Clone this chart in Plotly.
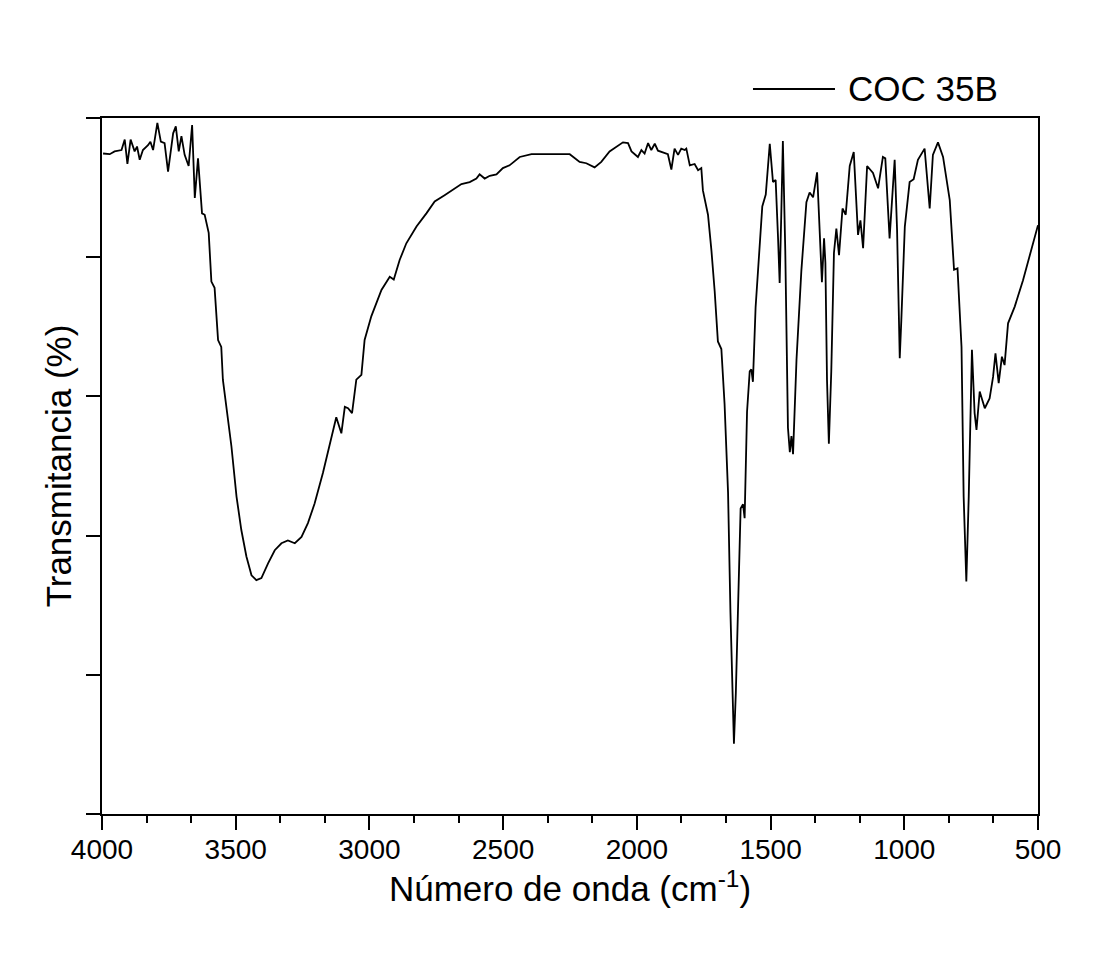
import plotly.graph_objects as go

# FTIR spectrum, sample COC 35B
wavenumber = [
    3996, 3971, 3953, 3927, 3915, 3905, 3893, 3878, 3869, 3859,
    3847, 3828, 3819, 3809, 3793, 3780, 3766, 3753, 3734, 3724,
    3713, 3703, 3691, 3676, 3663, 3653, 3641, 3626, 3616, 3601,
    3591, 3579, 3566, 3554, 3548, 3535, 3516, 3497, 3479, 3460,
    3441, 3423, 3404, 3379, 3354, 3329, 3305, 3279, 3254, 3230,
    3205, 3174, 3149, 3124, 3105, 3092, 3080, 3065, 3049, 3030,
    3018, 2993, 2955, 2924, 2909, 2887, 2862, 2824, 2787, 2756,
    2719, 2688, 2656, 2625, 2600, 2588, 2569, 2550, 2525, 2501,
    2476, 2438, 2394, 2314, 2251, 2214, 2189, 2158, 2133, 2102,
    2052, 2033, 2020, 1996, 1983, 1971, 1958, 1946, 1933, 1921,
    1896, 1884, 1871, 1859, 1846, 1834, 1821, 1815, 1802, 1784,
    1771, 1759, 1753, 1734, 1721, 1709, 1697, 1684, 1672, 1659,
    1650, 1643, 1637, 1630, 1622, 1612, 1603, 1597, 1588, 1578,
    1572, 1566, 1556, 1547, 1531, 1518, 1503, 1491, 1481, 1472,
    1466, 1460, 1454, 1445, 1435, 1428, 1422, 1416, 1403, 1385,
    1366, 1354, 1341, 1326, 1314, 1308, 1300, 1295, 1289, 1282,
    1273, 1263, 1254, 1244, 1231, 1219, 1204, 1189, 1173, 1164,
    1154, 1139, 1117, 1098, 1080, 1071, 1055, 1036, 1027, 1017,
    1011, 998, 980, 965, 949, 924, 905, 893, 874, 855,
    830, 814, 801, 786, 778, 768, 759, 747, 737, 730,
    718, 699, 681, 668, 659, 647, 635, 625, 612, 587,
    556, 531, 500,
]

transmittance = [
    94.9, 94.8, 95.2, 95.4, 96.9, 93.4, 96.9, 95.2, 95.9, 94.0,
    95.4, 96.1, 96.6, 95.4, 99.3, 96.6, 96.4, 92.3, 97.8, 98.8,
    95.2, 97.4, 94.7, 93.1, 99.0, 88.5, 94.2, 86.3, 86.1, 83.5,
    76.5, 75.6, 68.1, 67.1, 62.4, 58.5, 52.8, 45.6, 40.8, 37.0,
    34.3, 33.6, 33.9, 36.0, 37.9, 38.9, 39.3, 38.9, 39.8, 41.8,
    44.6, 49.0, 52.8, 57.0, 54.7, 58.5, 58.3, 57.6, 62.4, 63.1,
    68.1, 71.5, 75.3, 77.2, 76.8, 79.6, 82.0, 84.4, 86.3, 88.0,
    88.9, 89.7, 90.5, 90.8, 91.3, 91.9, 91.3, 91.7, 91.9, 92.8,
    93.2, 94.4, 94.8, 94.8, 94.8, 93.7, 93.5, 92.9, 93.7, 95.2,
    96.5, 96.4, 95.2, 94.4, 95.4, 94.9, 96.4, 95.4, 96.3, 95.3,
    94.9, 94.8, 92.6, 95.6, 94.7, 95.6, 95.4, 95.6, 93.2, 93.4,
    92.5, 92.8, 89.6, 86.1, 80.9, 75.1, 67.9, 66.8, 58.9, 46.2,
    28.9, 17.9, 10.1, 17.3, 28.9, 43.9, 44.5, 42.5, 57.8, 63.6,
    63.9, 62.1, 72.8, 78.6, 87.3, 89.0, 96.3, 90.8, 91.1, 82.7,
    76.3, 86.1, 96.7, 80.9, 55.5, 52.0, 54.3, 51.7, 65.3, 78.0,
    87.9, 89.3, 88.6, 92.2, 79.8, 76.4, 82.7, 79.2, 62.4, 53.2,
    63.6, 80.6, 84.1, 80.3, 87.0, 86.1, 93.1, 95.1, 83.2, 85.3,
    81.3, 93.1, 92.1, 89.9, 94.4, 94.2, 82.7, 94.0, 83.9, 65.5,
    71.0, 84.4, 90.8, 91.2, 94.0, 95.6, 87.0, 94.7, 96.5, 94.4,
    88.2, 78.2, 78.4, 67.1, 45.6, 33.4, 45.6, 66.7, 57.6, 55.2,
    60.7, 58.3, 59.7, 62.8, 66.2, 61.9, 65.7, 64.5, 70.5, 72.9,
    76.7, 80.1, 84.6,
]

x_ticks = [4000, 3500, 3000, 2500, 2000, 1500, 1000, 500]
y_ticks = [0, 20, 40, 60, 80, 100]
series_name = "COC 35B"

FONT = "Arial, 'Liberation Sans', sans-serif"

fig = go.Figure()
fig.add_trace(go.Scatter(
    x=wavenumber, y=transmittance, mode="lines", name=series_name,
    line=dict(color="black", width=1.8), showlegend=False,
))

axis_common = dict(
    showgrid=False, zeroline=False, showline=True, linecolor="black",
    linewidth=2, mirror=True, ticks="outside", ticklen=14, tickwidth=2,
    tickcolor="black",
)

fig.update_xaxes(
    range=[4000, 500], tickvals=x_ticks, ticktext=[str(v) for v in x_ticks],
    tickfont=dict(size=28, family=FONT, color="black"),
    ticklabelstandoff=-5,
    title=dict(text="Número de onda (cm<sup>-1</sup>)",
               font=dict(size=35, family=FONT, color="black"), standoff=9),
    minor=dict(ticks="outside", ticklen=7, tickwidth=2, tickcolor="black",
               tick0=500, dtick=500 / 3, showgrid=False),
    **axis_common,
)
fig.update_yaxes(
    range=[0, 100], tickvals=y_ticks, showticklabels=False,
    title=dict(text="Transmitancia (%)",
               font=dict(size=35, family=FONT, color="black"), standoff=4),
    **axis_common,
)

# legend drawn as a line sample + label
fig.add_shape(type="line", xref="paper", yref="paper",
              x0=0.6955, x1=0.7831, y0=1.0417, y1=1.0417,
              line=dict(color="black", width=1.8))
fig.add_annotation(xref="paper", yref="paper", x=0.7949, y=1.0417,
                   text=series_name, showarrow=False, xanchor="left",
                   yanchor="middle",
                   font=dict(size=35, family=FONT, color="black"))

fig.update_layout(
    width=1116, height=967,
    margin=dict(l=102, r=78, t=118, b=153),
    plot_bgcolor="white", paper_bgcolor="white",
    font=dict(family=FONT, color="black"),
    showlegend=False,
)

fig.write_html("out.html")
